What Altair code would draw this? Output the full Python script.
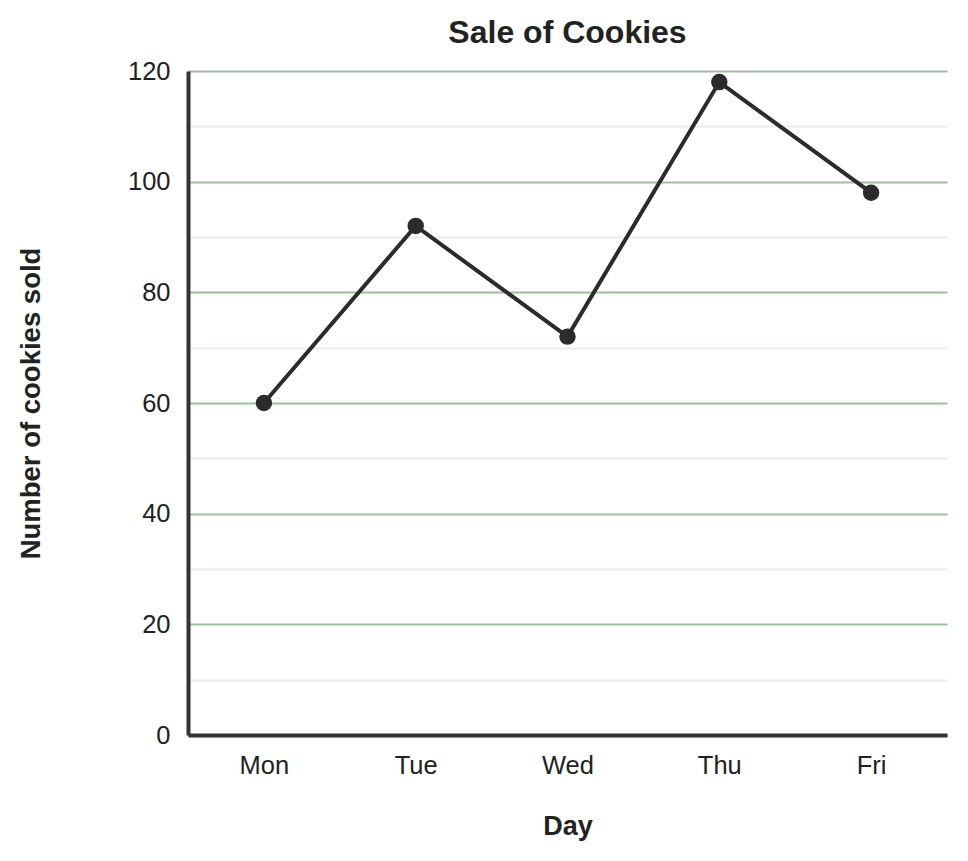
import altair as alt
import pandas as pd

days = ["Mon", "Tue", "Wed", "Thu", "Fri"]
cookies = [60, 92, 72, 118, 98]
y_ticks = [0, 10, 20, 30, 40, 50, 60, 70, 80, 90, 100, 110, 120]

df = pd.DataFrame({"Day": days, "Cookies": cookies})

FONT = "Arial, Liberation Sans, sans-serif"
INK = "#2b2b2b"

x = alt.X(
    "Day:N",
    sort=days,
    scale=alt.Scale(type="point", padding=0.5),
    axis=alt.Axis(
        title="Day",
        labelAngle=0,
        ticks=False,
        grid=False,
        domainColor="#333333",
        domainWidth=4,
        labelFontSize=25.5,
        labelFont=FONT,
        labelColor="#222222",
        labelPadding=18,
        titleFont=FONT,
        titleFontSize=27,
        titleFontWeight="bold",
        titleColor="#222222",
        titlePadding=35,
    ),
)

y = alt.Y(
    "Cookies:Q",
    scale=alt.Scale(domain=[0, 120], nice=False),
    axis=alt.Axis(
        title="Number of cookies sold",
        values=y_ticks,
        labelExpr="datum.value % 20 === 0 ? datum.label : ''",
        ticks=False,
        grid=True,
        gridColor=alt.condition("datum.value % 20 === 0", alt.value("#9dbf9d"), alt.value("#e8eee8")),
        gridWidth=2,
        domainColor="#333333",
        domainWidth=4,
        labelFontSize=25.5,
        labelFont=FONT,
        labelColor="#222222",
        labelPadding=18,
        titleFont=FONT,
        titleFontSize=27.5,
        titleFontWeight="bold",
        titleColor="#222222",
        titlePadding=82,
    ),
)

line = alt.Chart(df).mark_line(color=INK, strokeWidth=4).encode(x=x, y=y)
pts = alt.Chart(df).mark_point(filled=True, color=INK, size=270, opacity=1).encode(x=x, y=y)

chart = (
    alt.layer(line, pts)
    .properties(
        width=759,
        height=664,
        title=alt.TitleParams(
            "Sale of Cookies",
            font=FONT,
            fontSize=32,
            fontWeight="bold",
            color="#222222",
            anchor="middle",
            offset=9,
        ),
        autosize=alt.AutoSizeParams(type="none"),
        padding={"left": 180, "top": 63, "right": 13, "bottom": 118},
    )
    .configure_view(stroke="transparent", strokeWidth=0)
    .configure_axisX(grid=False)
    .configure(background="white", style={"cell": {"stroke": "transparent", "strokeWidth": 0}})
)

chart.save("out.html", embed_options={"renderer": "svg", "actions": False})
